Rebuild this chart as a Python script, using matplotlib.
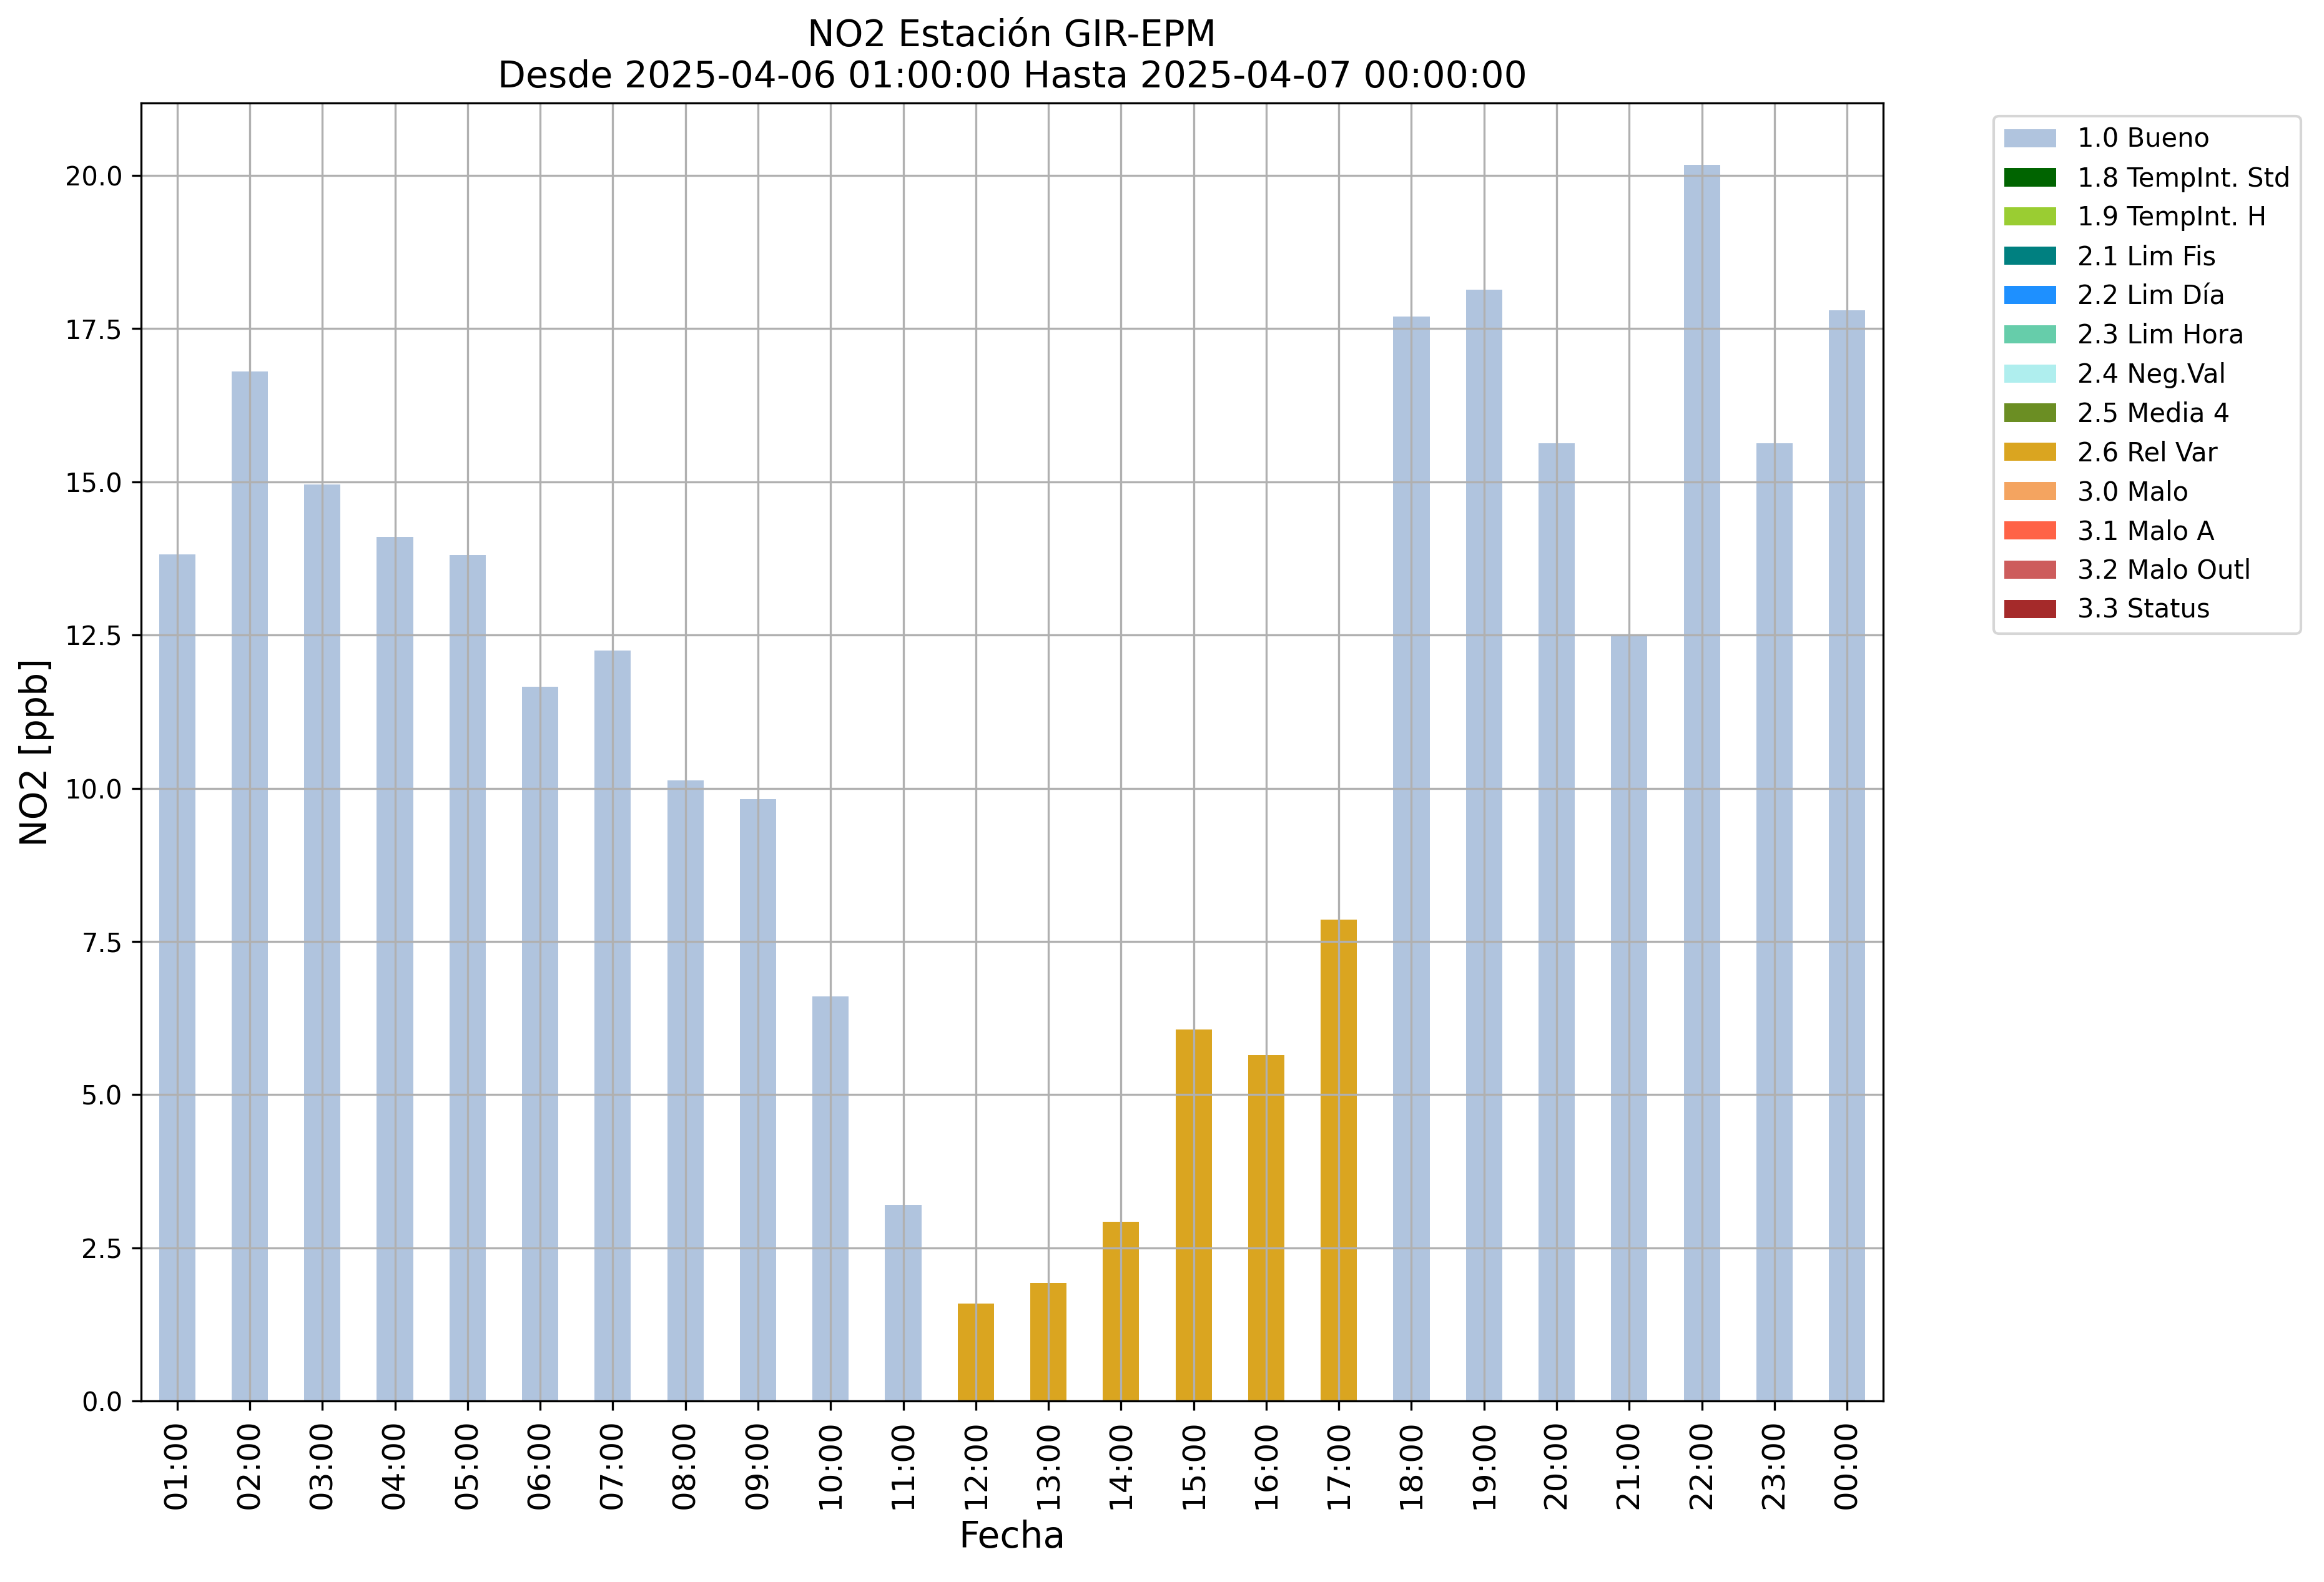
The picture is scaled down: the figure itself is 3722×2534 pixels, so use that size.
import matplotlib
matplotlib.use("Agg")
import matplotlib.pyplot as plt
import numpy as np

# hourly NO2 values and their quality flag
horas = ['01:00', '02:00', '03:00', '04:00', '05:00', '06:00', '07:00', '08:00',
         '09:00', '10:00', '11:00', '12:00', '13:00', '14:00', '15:00', '16:00',
         '17:00', '18:00', '19:00', '20:00', '21:00', '22:00', '23:00', '00:00']
no2 = [13.82, 16.80, 14.96, 14.10, 13.80, 11.66, 12.25, 10.13,
       9.82, 6.60, 3.20, 1.59, 1.93, 2.92, 6.06, 5.65,
       7.86, 17.70, 18.13, 15.63, 12.50, 20.17, 15.63, 17.80]
flags = ['1.0', '1.0', '1.0', '1.0', '1.0', '1.0', '1.0', '1.0',
         '1.0', '1.0', '1.0', '2.6', '2.6', '2.6', '2.6', '2.6',
         '2.6', '1.0', '1.0', '1.0', '1.0', '1.0', '1.0', '1.0']

codigos = ['1.0', '1.8', '1.9', '2.1', '2.2', '2.3', '2.4', '2.5', '2.6',
           '3.0', '3.1', '3.2', '3.3']
nombres = ['1.0 Bueno', '1.8 TempInt. Std', '1.9 TempInt. H', '2.1 Lim Fis',
           '2.2 Lim Día', '2.3 Lim Hora', '2.4 Neg.Val', '2.5 Media 4',
           '2.6 Rel Var', '3.0 Malo', '3.1 Malo A', '3.2 Malo Outl', '3.3 Status']
colores = ['lightsteelblue', 'darkgreen', 'yellowgreen', 'teal', 'dodgerblue',
           'mediumaquamarine', 'paleturquoise', 'olivedrab', 'goldenrod',
           'sandybrown', 'tomato', 'indianred', 'brown']

fig = plt.figure(figsize=(3722/300, 2534/300), dpi=300)
ax = fig.add_axes([0.0606, 0.1144, 0.7498, 0.8204])

x = np.arange(len(horas))
vals = np.array(no2)
fl = np.array(flags)
for cod, nom, col in zip(codigos, nombres, colores):
    ax.bar(x, np.where(fl == cod, vals, 0.0), width=0.5, color=col, label=nom)

ax.set_xlim(-0.5, len(horas) - 0.5)
ax.set_xticks(x)
ax.set_xticklabels(horas, rotation=90, fontsize=12)
ax.tick_params(axis='y', labelsize=10)
ax.grid(True)
ax.set_xlabel('Fecha', fontsize=14)
ax.set_ylabel('NO2 [ppb]', fontsize=14)
ax.set_title('NO2 Estación GIR-EPM\nDesde 2025-04-06 01:00:00 Hasta 2025-04-07 00:00:00',
             fontsize=14)
ax.legend(bbox_to_anchor=(1.056, 1), loc='upper left', fontsize=10)

fig.savefig('out.png', dpi=300)
